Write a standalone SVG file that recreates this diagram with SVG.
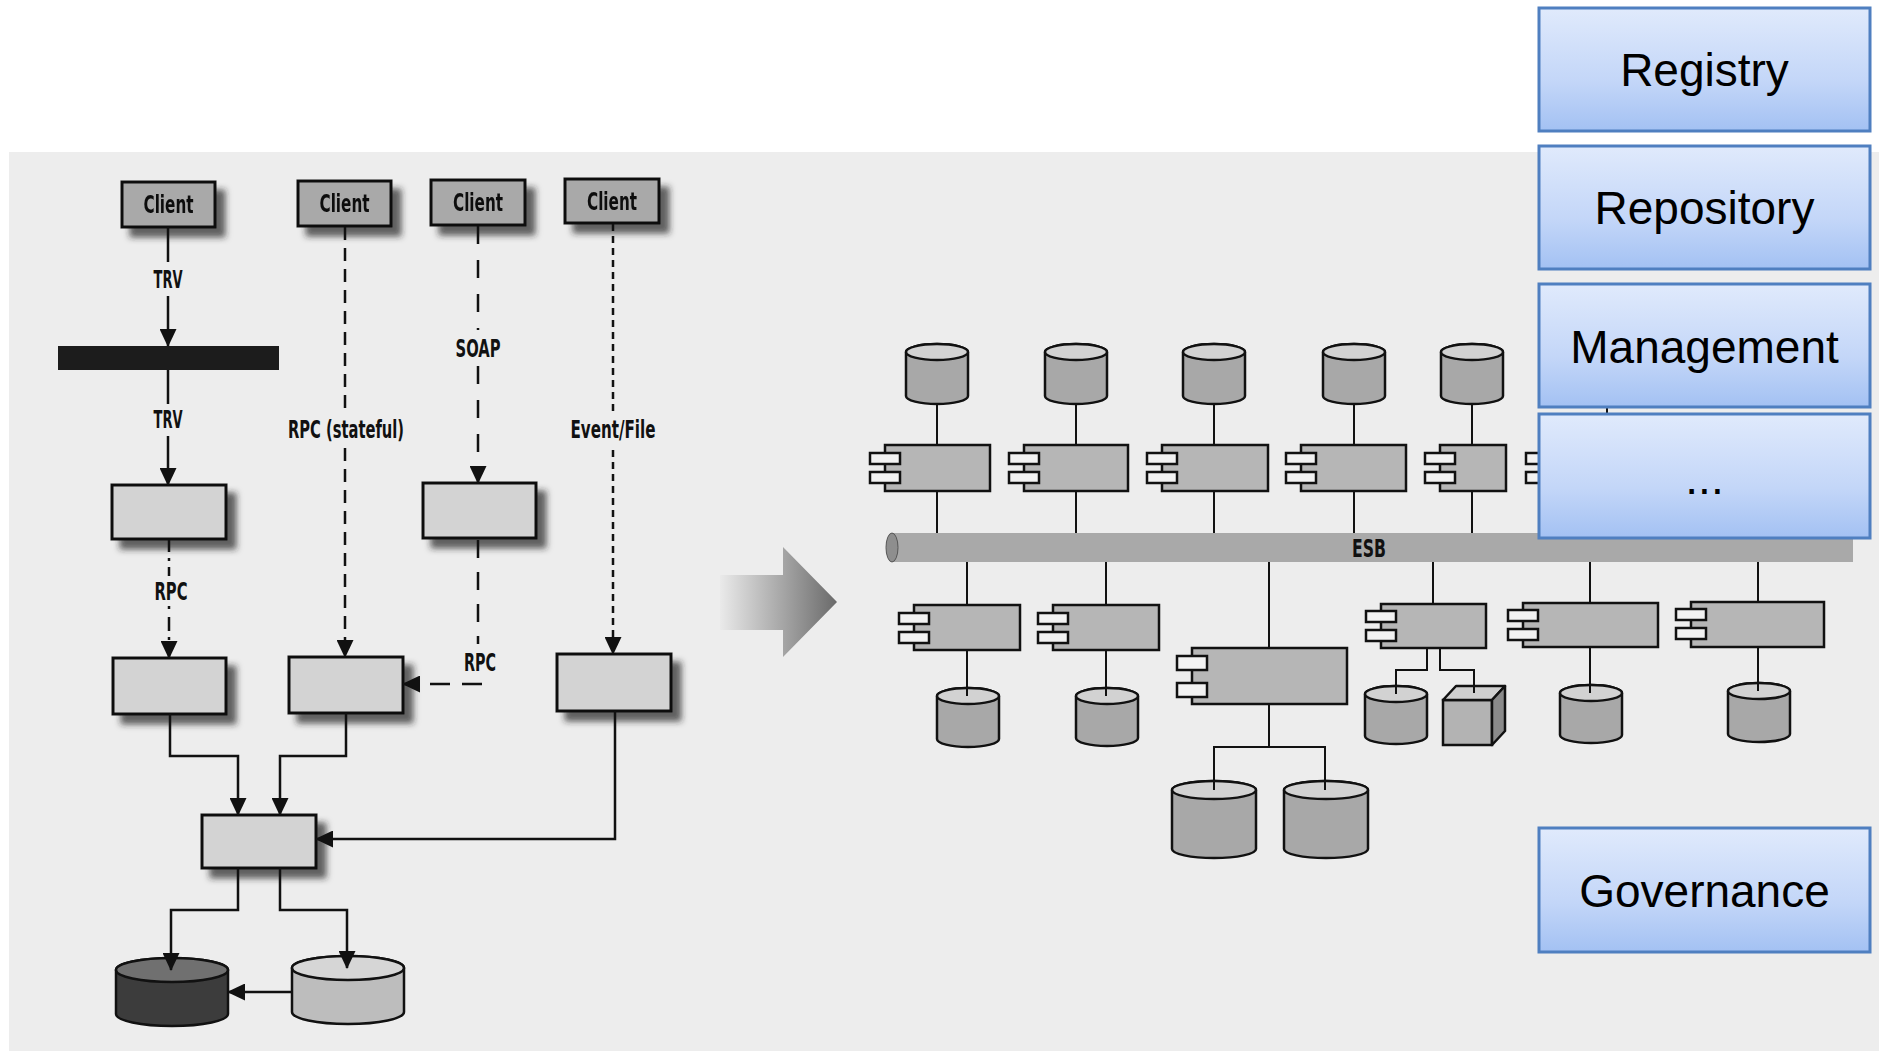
<svg xmlns="http://www.w3.org/2000/svg" width="1879" height="1051" viewBox="0 0 1879 1051">
<style>
.lbl{font-family:"Liberation Sans Narrow","DejaVu Sans Condensed","Liberation Sans",sans-serif;font-size:24px;font-weight:bold;fill:#111;text-anchor:middle}
.box{stroke:#111;stroke-width:3}
.client{fill:#a9a9a9}
.proc{fill:#d3d3d3}
.comp{fill:#b6b6b6;stroke:#111;stroke-width:2.5}
.port{fill:#f2f2f2;stroke:#111;stroke-width:2.5}
.cylb{fill:#a8a8a8;stroke:#111;stroke-width:2.5}
.cylt{fill:#d2d2d2;stroke:#111;stroke-width:2.5}
.ln{fill:none;stroke:#111;stroke-width:2.5}
.rl{fill:none;stroke:#111;stroke-width:2}
.blue{fill:url(#bg);stroke:#4f7fc0;stroke-width:3}
.bt{font-family:"Liberation Sans",Arial,sans-serif;font-size:46px;fill:#000;text-anchor:middle}
</style>
<defs>
<linearGradient id="bg" x1="0" y1="0" x2="0" y2="1">
<stop offset="0" stop-color="#e0eafc"/>
<stop offset="0.6" stop-color="#c3d6f8"/>
<stop offset="1" stop-color="#a3c1f3"/>
</linearGradient>
<linearGradient id="ag" x1="0" y1="0" x2="1" y2="0">
<stop offset="0" stop-color="#eaeaea"/>
<stop offset="0.55" stop-color="#a4a4a4"/>
<stop offset="1" stop-color="#6a6a6a"/>
</linearGradient>
<filter id="sh" x="-20%" y="-20%" width="150%" height="160%">
<feGaussianBlur in="SourceAlpha" stdDeviation="3"/>
<feOffset dx="9" dy="9" result="b"/>
<feFlood flood-color="#222" flood-opacity="0.7"/>
<feComposite in2="b" operator="in"/>
<feMerge><feMergeNode/><feMergeNode in="SourceGraphic"/></feMerge>
</filter>
<marker id="ah" viewBox="0 0 18 17" refX="17" refY="8.5" markerWidth="18" markerHeight="17" markerUnits="userSpaceOnUse" orient="auto">
<path d="M0,0 L18,8.5 L0,17 z" fill="#111"/>
</marker>
</defs>

<rect x="0" y="0" width="1879" height="1051" fill="#ffffff"/>
<rect x="9" y="152" width="1870" height="899" fill="#ededed"/>

<!-- left diagram nodes -->
<g id="client1" filter="url(#sh)"><rect class="box client" x="122" y="182" width="93" height="45"/><text class="lbl" x="168.5" y="213" textLength="50" lengthAdjust="spacingAndGlyphs">Client</text></g>
<g id="client2" filter="url(#sh)"><rect class="box client" x="298" y="181" width="93" height="45"/><text class="lbl" x="344.5" y="212" textLength="50" lengthAdjust="spacingAndGlyphs">Client</text></g>
<g id="client3" filter="url(#sh)"><rect class="box client" x="431" y="180" width="94" height="45"/><text class="lbl" x="478" y="211" textLength="50" lengthAdjust="spacingAndGlyphs">Client</text></g>
<g id="client4" filter="url(#sh)"><rect class="box client" x="565" y="179" width="94" height="44"/><text class="lbl" x="612" y="210" textLength="50" lengthAdjust="spacingAndGlyphs">Client</text></g>
<g id="bar"><rect x="58" y="346" width="221" height="24" fill="#1c1c1c"/></g>
<g id="boxA" filter="url(#sh)"><rect class="box proc" x="112" y="485" width="114" height="54"/></g>
<g id="boxB" filter="url(#sh)"><rect class="box proc" x="423" y="483" width="113" height="55"/></g>
<g id="boxC" filter="url(#sh)"><rect class="box proc" x="113" y="658" width="113" height="56"/></g>
<g id="boxD" filter="url(#sh)"><rect class="box proc" x="289" y="657" width="114" height="56"/></g>
<g id="boxE" filter="url(#sh)"><rect class="box proc" x="557" y="654" width="114" height="57"/></g>
<g id="boxF" filter="url(#sh)"><rect class="box proc" x="202" y="815" width="114" height="53"/></g>
<g id="dbDark">
<path d="M116,970 V1014 A56,12 0 0 0 228,1014 V970 A56,12 0 0 0 116,970 Z" fill="#3c3c3c" stroke="#111" stroke-width="2.5"/>
<ellipse cx="172" cy="970" rx="56" ry="12" fill="#707070" stroke="#111" stroke-width="2.5"/>
</g>
<g id="dbLight">
<path d="M292,968 V1012 A56,12 0 0 0 404,1012 V968 A56,12 0 0 0 292,968 Z" fill="#bdbdbd" stroke="#111" stroke-width="2.5"/>
<ellipse cx="348" cy="968" rx="56" ry="12" fill="#d6d6d6" stroke="#111" stroke-width="2.5"/>
</g>

<!-- transition arrow -->
<g id="transition-arrow"><path d="M720,575 H783 V547 L837,602 L783,657 V630 H720 Z" fill="url(#ag)"/></g>

<!-- ESB diagram nodes -->
<g id="esb">
<rect x="892" y="533" width="961" height="29" fill="#a9a9a9"/>
<ellipse cx="892" cy="547.5" rx="6" ry="14.5" fill="#8e8e8e" stroke="#555" stroke-width="1"/>
<text class="lbl" x="1369" y="557" textLength="34" lengthAdjust="spacingAndGlyphs">ESB</text>
</g>

<g id="dbT1"><path d="M906,352 V396 A31,8 0 0 0 968,396 V352 A31,8 0 0 0 906,352 Z" class="cylb"/><ellipse cx="937" cy="352" rx="31" ry="8" class="cylt"/></g>
<g id="dbT2"><path d="M1045,352 V396 A31,8 0 0 0 1107,396 V352 A31,8 0 0 0 1045,352 Z" class="cylb"/><ellipse cx="1076" cy="352" rx="31" ry="8" class="cylt"/></g>
<g id="dbT3"><path d="M1183,352 V396 A31,8 0 0 0 1245,396 V352 A31,8 0 0 0 1183,352 Z" class="cylb"/><ellipse cx="1214" cy="352" rx="31" ry="8" class="cylt"/></g>
<g id="dbT4"><path d="M1323,352 V396 A31,8 0 0 0 1385,396 V352 A31,8 0 0 0 1323,352 Z" class="cylb"/><ellipse cx="1354" cy="352" rx="31" ry="8" class="cylt"/></g>
<g id="dbT5"><path d="M1441,352 V396 A31,8 0 0 0 1503,396 V352 A31,8 0 0 0 1441,352 Z" class="cylb"/><ellipse cx="1472" cy="352" rx="31" ry="8" class="cylt"/></g>

<g id="compT1"><rect class="comp" x="885" y="445" width="105" height="46"/><rect class="port" x="870" y="453" width="30" height="11"/><rect class="port" x="870" y="472" width="30" height="11"/></g>
<g id="compT2"><rect class="comp" x="1024" y="445" width="104" height="46"/><rect class="port" x="1009" y="453" width="30" height="11"/><rect class="port" x="1009" y="472" width="30" height="11"/></g>
<g id="compT3"><rect class="comp" x="1162" y="445" width="106" height="46"/><rect class="port" x="1147" y="453" width="30" height="11"/><rect class="port" x="1147" y="472" width="30" height="11"/></g>
<g id="compT4"><rect class="comp" x="1301" y="445" width="105" height="46"/><rect class="port" x="1286" y="453" width="30" height="11"/><rect class="port" x="1286" y="472" width="30" height="11"/></g>
<g id="compT5"><rect class="comp" x="1440" y="445" width="66" height="46"/><rect class="port" x="1425" y="453" width="30" height="11"/><rect class="port" x="1425" y="472" width="30" height="11"/></g>
<g id="compT6"><rect class="comp" x="1541" y="445" width="105" height="46"/><rect class="port" x="1526" y="453" width="30" height="11"/><rect class="port" x="1526" y="472" width="30" height="11"/></g>

<g id="compB1"><rect class="comp" x="914" y="605" width="106" height="45"/><rect class="port" x="899" y="613" width="30" height="11"/><rect class="port" x="899" y="632" width="30" height="11"/></g>
<g id="compB2"><rect class="comp" x="1053" y="605" width="106" height="45"/><rect class="port" x="1038" y="613" width="30" height="11"/><rect class="port" x="1038" y="632" width="30" height="11"/></g>
<g id="compB3"><rect class="comp" x="1192" y="648" width="155" height="56"/><rect class="port" x="1177" y="656" width="30" height="14"/><rect class="port" x="1177" y="683" width="30" height="14"/></g>
<g id="compB4"><rect class="comp" x="1381" y="604" width="105" height="44"/><rect class="port" x="1366" y="611" width="30" height="11"/><rect class="port" x="1366" y="630" width="30" height="11"/></g>
<g id="compB5"><rect class="comp" x="1523" y="603" width="135" height="44"/><rect class="port" x="1508" y="610" width="30" height="11"/><rect class="port" x="1508" y="629" width="30" height="11"/></g>
<g id="compB6"><rect class="comp" x="1691" y="602" width="133" height="45"/><rect class="port" x="1676" y="609" width="30" height="11"/><rect class="port" x="1676" y="628" width="30" height="11"/></g>

<g id="dbB1"><path d="M937,696 V739 A31,8 0 0 0 999,739 V696 A31,8 0 0 0 937,696 Z" class="cylb"/><ellipse cx="968" cy="696" rx="31" ry="8" class="cylt"/></g>
<g id="dbB2"><path d="M1076,696 V738 A31,8 0 0 0 1138,738 V696 A31,8 0 0 0 1076,696 Z" class="cylb"/><ellipse cx="1107" cy="696" rx="31" ry="8" class="cylt"/></g>
<g id="dbB3a"><path d="M1172,790 V849 A42,9 0 0 0 1256,849 V790 A42,9 0 0 0 1172,790 Z" class="cylb"/><ellipse cx="1214" cy="790" rx="42" ry="9" class="cylt"/></g>
<g id="dbB3b"><path d="M1284,790 V849 A42,9 0 0 0 1368,849 V790 A42,9 0 0 0 1284,790 Z" class="cylb"/><ellipse cx="1326" cy="790" rx="42" ry="9" class="cylt"/></g>
<g id="dbB4"><path d="M1365,694 V736 A31,8 0 0 0 1427,736 V694 A31,8 0 0 0 1365,694 Z" class="cylb"/><ellipse cx="1396" cy="694" rx="31" ry="8" class="cylt"/></g>
<g id="cubeB4">
<rect x="1443" y="700" width="49" height="45" fill="#b3b3b3" stroke="#111" stroke-width="2.5"/>
<path d="M1443,700 L1456,686 H1505 L1492,700 Z" fill="#cfcfcf" stroke="#111" stroke-width="2.5" stroke-linejoin="round"/>
<path d="M1492,700 L1505,686 V731 L1492,745 Z" fill="#8a8a8a" stroke="#111" stroke-width="2.5" stroke-linejoin="round"/>
</g>
<g id="dbB5"><path d="M1560,693 V735 A31,8 0 0 0 1622,735 V693 A31,8 0 0 0 1560,693 Z" class="cylb"/><ellipse cx="1591" cy="693" rx="31" ry="8" class="cylt"/></g>
<g id="dbB6"><path d="M1728,691 V734 A31,8 0 0 0 1790,734 V691 A31,8 0 0 0 1728,691 Z" class="cylb"/><ellipse cx="1759" cy="691" rx="31" ry="8" class="cylt"/></g>

<!-- connectors -->
<g id="connectors">
<line class="ln" x1="168" y1="227" x2="168" y2="262"/>
<line class="ln" x1="168" y1="296" x2="168" y2="346" marker-end="url(#ah)"/>
<line class="ln" x1="168" y1="370" x2="168" y2="404"/>
<line class="ln" x1="168" y1="436" x2="168" y2="485" marker-end="url(#ah)"/>
<line class="ln" x1="345" y1="227" x2="345" y2="416" stroke-dasharray="13 8"/>
<line class="ln" x1="345" y1="448" x2="345" y2="657" stroke-dasharray="13 8" marker-end="url(#ah)"/>
<line class="ln" x1="478" y1="226" x2="478" y2="330" stroke-dasharray="18 16"/>
<line class="ln" x1="478" y1="366" x2="478" y2="483" stroke-dasharray="18 16" marker-end="url(#ah)"/>
<line class="ln" x1="478" y1="540" x2="478" y2="644" stroke-dasharray="18 14"/>
<line class="ln" x1="482" y1="684" x2="403" y2="684" stroke-dasharray="20 12" marker-end="url(#ah)"/>
<line class="ln" x1="613" y1="224" x2="613" y2="416" stroke-dasharray="7 5"/>
<line class="ln" x1="613" y1="450" x2="613" y2="654" stroke-dasharray="7 5" marker-end="url(#ah)"/>
<line class="ln" x1="169" y1="540" x2="169" y2="576" stroke-dasharray="12 6 3 6"/>
<line class="ln" x1="169" y1="606" x2="169" y2="658" stroke-dasharray="3 8 14 6" marker-end="url(#ah)"/>
<path class="ln" d="M170,714 V756 H238 V815" marker-end="url(#ah)"/>
<path class="ln" d="M346,713 V756 H280 V815" marker-end="url(#ah)"/>
<path class="ln" d="M615,711 V839 H316" marker-end="url(#ah)"/>
<path class="ln" d="M238,868 V910 H171 V970" marker-end="url(#ah)"/>
<path class="ln" d="M280,868 V910 H347 V968" marker-end="url(#ah)"/>
<path class="ln" d="M292,992 H228" marker-end="url(#ah)"/>

<path class="rl" d="M937,404 V445 M937,491 V533 M1076,404 V445 M1076,491 V533 M1214,404 V445 M1214,491 V533 M1354,404 V445 M1354,491 V533 M1472,404 V445 M1472,491 V533 M1607,380 V445 M1607,491 V533"/>
<path class="rl" d="M967,562 V605 M967,650 V696 M1106,562 V605 M1106,650 V696 M1269,562 V648 M1269,704 V747 M1214,790 V747 H1325 V790 M1433,562 V604 M1427,648 V670 H1396 V694 M1440,648 V670 H1474 V693 M1590,562 V603 M1590,647 V693 M1758,562 V602 M1758,647 V691"/>
</g>

<!-- labels -->
<g id="labels">
<text class="lbl" x="168" y="288" textLength="29" lengthAdjust="spacingAndGlyphs">TRV</text>
<text class="lbl" x="168" y="428" textLength="29" lengthAdjust="spacingAndGlyphs">TRV</text>
<text class="lbl" x="478" y="357" textLength="45" lengthAdjust="spacingAndGlyphs">SOAP</text>
<text class="lbl" x="346" y="438" textLength="116" lengthAdjust="spacingAndGlyphs">RPC (stateful)</text>
<text class="lbl" x="613" y="438" textLength="85" lengthAdjust="spacingAndGlyphs">Event/File</text>
<text class="lbl" x="171" y="600" textLength="33" lengthAdjust="spacingAndGlyphs">RPC</text>
<text class="lbl" x="480" y="671" textLength="32" lengthAdjust="spacingAndGlyphs">RPC</text>
</g>

<!-- overlay boxes -->
<g id="registry"><rect class="blue" x="1539" y="8" width="331" height="123"/><text class="bt" x="1704.5" y="86">Registry</text></g>
<g id="repository"><rect class="blue" x="1539" y="146" width="331" height="123"/><text class="bt" x="1704.5" y="224">Repository</text></g>
<g id="management"><rect class="blue" x="1539" y="284" width="331" height="123"/><text class="bt" x="1704.5" y="363">Management</text></g>
<g id="more"><rect class="blue" x="1539" y="414" width="331" height="124"/><text class="bt" x="1704.5" y="494">...</text></g>
<g id="governance"><rect class="blue" x="1539" y="828" width="331" height="124"/><text class="bt" x="1704.5" y="907">Governance</text></g>
</svg>
